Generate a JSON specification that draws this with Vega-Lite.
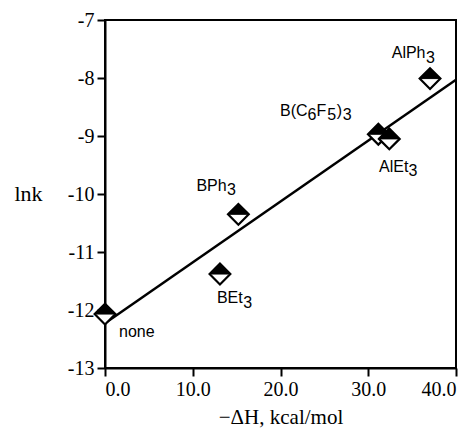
{
  "$schema": "https://vega.github.io/schema/vega-lite/v6.json",
  "width": 351,
  "height": 348,
  "autosize": {"type": "none"},
  "padding": {"left": 105, "top": 20, "right": 20, "bottom": 67},
  "background": "white",
  "config": {
    "view": {"stroke": "black", "strokeWidth": 2},
    "text": {"font": "Liberation Sans", "fontSize": 16, "color": "black", "align": "left", "baseline": "alphabetic"},
    "axis": {
      "grid": false,
      "domainColor": "black",
      "domainWidth": 2,
      "tickColor": "black",
      "tickWidth": 2,
      "tickSize": 8,
      "labelColor": "black",
      "labelFont": "Liberation Serif",
      "labelFontSize": 20,
      "labelPadding": 3,
      "titleColor": "black",
      "titleFont": "Liberation Serif",
      "titleFontWeight": "normal"
    }
  },
  "datasets": {
    "points": [
      {"name": "none", "dH": 0.0, "lnk": -12.07},
      {"name": "BEt3", "dH": 13.1, "lnk": -11.38},
      {"name": "BPh3", "dH": 15.2, "lnk": -10.35},
      {"name": "B(C6F5)3", "dH": 31.15, "lnk": -8.97},
      {"name": "AlEt3", "dH": 32.4, "lnk": -9.05},
      {"name": "AlPh3", "dH": 37.04, "lnk": -8.01}
    ],
    "fit": [
      {"dH": 0, "lnk": -12.23},
      {"dH": 40, "lnk": -8.03}
    ]
  },
  "encoding": {
    "x": {"field": "dH", "type": "quantitative"},
    "y": {"field": "lnk", "type": "quantitative"}
  },
  "layer": [
    {
      "data": {"name": "fit"},
      "mark": {"type": "line", "color": "black", "strokeWidth": 2.5},
      "encoding": {
        "x": {
          "field": "dH", "type": "quantitative",
          "scale": {"domain": [0, 40], "nice": false, "zero": false},
          "axis": {
            "values": [0, 10, 20, 30, 40],
            "format": ".1f",
            "title": "−ΔH, kcal/mol",
            "titleFontSize": 21,
            "titleY": 55,
            "titleBaseline": "alphabetic"
          }
        },
        "y": {
          "field": "lnk", "type": "quantitative",
          "scale": {"domain": [-13, -7], "nice": false, "zero": false},
          "axis": {
            "values": [-13, -12, -11, -10, -9, -8, -7],
            "labelExpr": "toString(datum.value)",
            "title": "lnk",
            "titleFontSize": 22,
            "titleAngle": 0,
            "titleX": -77,
            "titleY": 173,
            "titleAlign": "center",
            "titleBaseline": "middle"
          }
        }
      }
    },
    {
      "data": {"name": "points"},
      "transform": [{"filter": "datum.name != 'AlEt3'"}],
      "mark": {"type": "point", "shape": "diamond", "filled": true, "fill": "white", "stroke": "black", "strokeWidth": 2.2, "size": 430, "opacity": 1}
    },
    {
      "data": {"name": "points"},
      "transform": [{"filter": "datum.name != 'AlEt3'"}],
      "mark": {"type": "point", "shape": "M-1,0L0,-1L1,0Z", "filled": true, "fill": "black", "stroke": "black", "strokeWidth": 1, "size": 430, "opacity": 1}
    },
    {
      "data": {"name": "points"},
      "transform": [{"filter": "datum.name == 'AlEt3'"}],
      "mark": {"type": "point", "shape": "diamond", "filled": true, "fill": "white", "stroke": "black", "strokeWidth": 2.2, "size": 430, "opacity": 1}
    },
    {
      "data": {"name": "points"},
      "transform": [{"filter": "datum.name == 'AlEt3'"}],
      "mark": {"type": "point", "shape": "M-1,0L0,-1L1,0Z", "filled": true, "fill": "black", "stroke": "black", "strokeWidth": 1, "size": 430, "opacity": 1}
    },
    {
      "data": {"name": "points"},
      "transform": [{"filter": "datum.name == 'none'"}],
      "mark": {"type": "text", "text": "none", "dx": 14, "dy": 23}
    },
    {
      "data": {"name": "points"},
      "transform": [{"filter": "datum.name == 'BEt3'"}],
      "mark": {"type": "text", "text": "BEt", "dx": -3, "dy": 29}
    },
    {
      "data": {"name": "points"},
      "transform": [{"filter": "datum.name == 'BEt3'"}],
      "mark": {"type": "text", "text": "3", "dx": 23.3, "dy": 33.5}
    },
    {
      "data": {"name": "points"},
      "transform": [{"filter": "datum.name == 'BPh3'"}],
      "mark": {"type": "text", "text": "BPh", "dx": -42, "dy": -23.5}
    },
    {
      "data": {"name": "points"},
      "transform": [{"filter": "datum.name == 'BPh3'"}],
      "mark": {"type": "text", "text": "3", "dx": -11.3, "dy": -19}
    },
    {
      "data": {"name": "points"},
      "transform": [{"filter": "datum.name == 'AlPh3'"}],
      "mark": {"type": "text", "text": "AlPh", "dx": -38.3, "dy": -20.3}
    },
    {
      "data": {"name": "points"},
      "transform": [{"filter": "datum.name == 'AlPh3'"}],
      "mark": {"type": "text", "text": "3", "dx": -4, "dy": -15.8}
    },
    {
      "data": {"name": "points"},
      "transform": [{"filter": "datum.name == 'AlEt3'"}],
      "mark": {"type": "text", "text": "AlEt", "dx": -10.3, "dy": 32.8}
    },
    {
      "data": {"name": "points"},
      "transform": [{"filter": "datum.name == 'AlEt3'"}],
      "mark": {"type": "text", "text": "3", "dx": 19.3, "dy": 37.3}
    },
    {
      "data": {"name": "points"},
      "transform": [{"filter": "datum.name == 'B(C6F5)3'"}],
      "mark": {"type": "text", "text": "B(C", "dx": -98.3, "dy": -18.3}
    },
    {
      "data": {"name": "points"},
      "transform": [{"filter": "datum.name == 'B(C6F5)3'"}],
      "mark": {"type": "text", "text": "6", "dx": -70.8, "dy": -13.8}
    },
    {
      "data": {"name": "points"},
      "transform": [{"filter": "datum.name == 'B(C6F5)3'"}],
      "mark": {"type": "text", "text": "F", "dx": -61.9, "dy": -18.3}
    },
    {
      "data": {"name": "points"},
      "transform": [{"filter": "datum.name == 'B(C6F5)3'"}],
      "mark": {"type": "text", "text": "5", "dx": -51, "dy": -13.8}
    },
    {
      "data": {"name": "points"},
      "transform": [{"filter": "datum.name == 'B(C6F5)3'"}],
      "mark": {"type": "text", "text": ")", "dx": -41.5, "dy": -18.3}
    },
    {
      "data": {"name": "points"},
      "transform": [{"filter": "datum.name == 'B(C6F5)3'"}],
      "mark": {"type": "text", "text": "3", "dx": -35.5, "dy": -13.8}
    }
  ]
}
